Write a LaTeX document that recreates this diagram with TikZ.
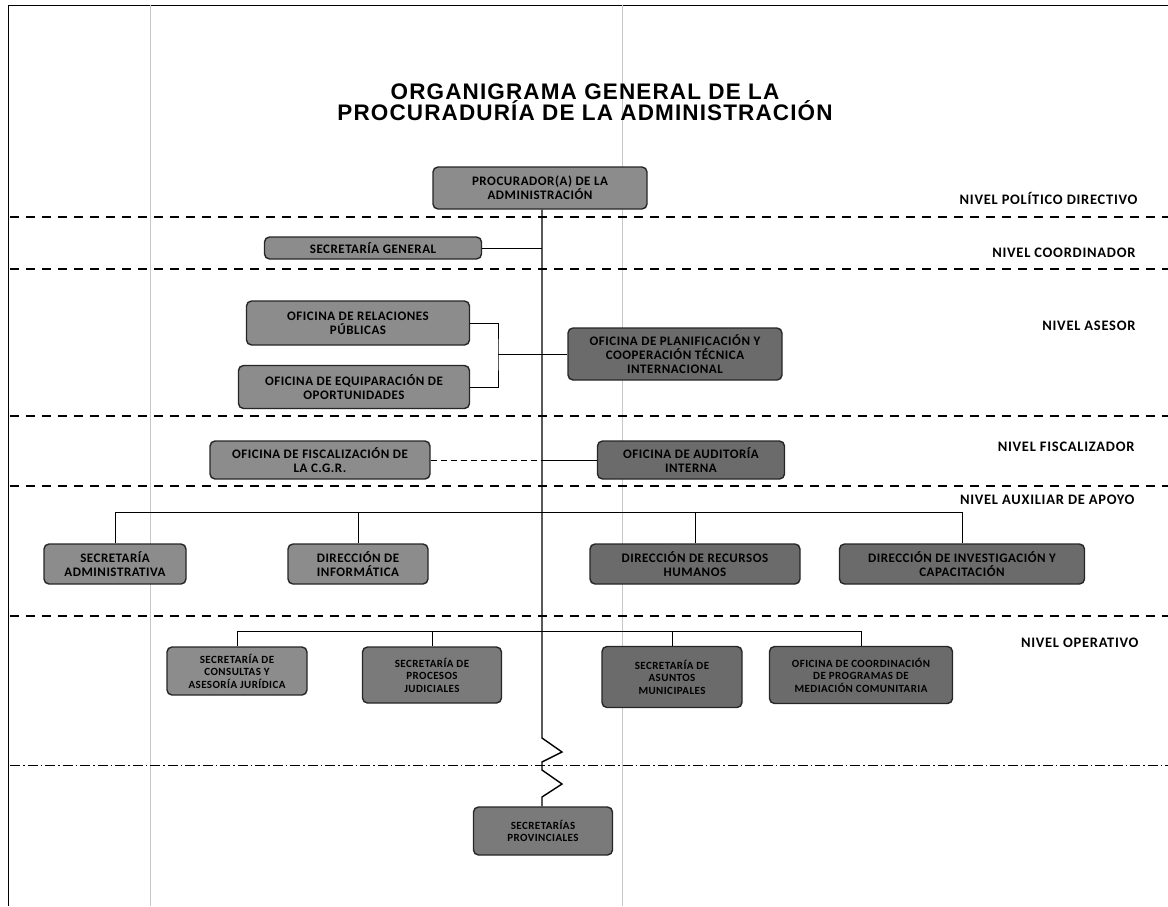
\documentclass[tikz,border=0pt]{standalone}
\usepackage{fontspec}
\setmainfont{Carlito}
\newfontfamily\titulofont[LetterSpace=5]{Liberation Sans}
\newfontfamily\cajafont[LetterSpace=4]{Carlito}
\newfontfamily\nivelfont[LetterSpace=5]{Carlito}

\tikzset{
	caja/.style={draw=black!85, line width=1.4pt, rounded corners=5pt, fill=black!45,
		align=center, inner sep=0pt, font=\cajafont\bfseries\fontsize{13}{14}\selectfont},
	cajaosc/.style={caja, fill=black!58},
	cajachica/.style={font=\cajafont\bfseries\fontsize{11}{12.5}\selectfont},
	nivel/.style={anchor=east, font=\nivelfont\bfseries\fontsize{14.5}{16}\selectfont},
	nivelsep/.style={dash pattern=on 9pt off 7pt, line width=1.1pt},
	conector/.style={line width=1pt},
}

\begin{document}
\begin{tikzpicture}[x=1pt,y=-1pt]
	\useasboundingbox (0,0) rectangle (1168,906);

	% marco y rayas del escaneo
	\draw[line width=0.8pt] (8,906) -- (8,5) -- (1168,5);
	\draw[black!22, line width=0.6pt] (150,5) -- (150,906);
	\draw[black!22, line width=0.6pt] (622,5) -- (622,906);

	\node[font=\titulofont\bfseries\fontsize{22.5}{21}\selectfont, align=center] (titulo) at (585,102)
		{ORGANIGRAMA GENERAL DE LA\\PROCURADURÍA DE LA ADMINISTRACIÓN};

	% separadores de niveles
	\foreach \y in {217,269,416,486,616}
		\draw[nivelsep] (10,\y) -- (1168,\y);
	\draw[dash pattern=on 10pt off 3pt on 1.5pt off 3pt, line width=1pt] (10,765) -- (1168,765);

	% niveles
	\node[nivel] (npd) at (1141,198) {NIVEL POLÍTICO DIRECTIVO};
	\node[nivel] (nco) at (1139,253) {NIVEL COORDINADOR};
	\node[nivel] (nas) at (1139,326) {NIVEL ASESOR};
	\node[nivel] (nfi) at (1138,447) {NIVEL FISCALIZADOR};
	\node[nivel] (nax) at (1138,500) {NIVEL AUXILIAR DE APOYO};
	\node[nivel] (nop) at (1142,643) {NIVEL OPERATIVO};

	% unidades
	\node[caja, minimum width=214pt, minimum height=42pt] (pa) at (540,188) {PROCURADOR(A) DE LA\\ADMINISTRACIÓN};
	\node[caja, minimum width=217pt, minimum height=22pt] (sg) at (373,248) {SECRETARÍA GENERAL};
	\node[caja, minimum width=223pt, minimum height=44pt] (rp) at (358,323) {OFICINA DE RELACIONES\\PÚBLICAS};
	\node[caja, minimum width=231pt, minimum height=43pt] (ep) at (354,387) {OFICINA DE EQUIPARACIÓN DE\\OPORTUNIDADES};
	\node[cajaosc, minimum width=214pt, minimum height=52pt] (pl) at (675,354) {OFICINA DE PLANIFICACIÓN Y\\COOPERACIÓN TÉCNICA\\INTERNACIONAL};
	\node[caja, minimum width=220pt, minimum height=38pt] (fi) at (320,460) {OFICINA DE FISCALIZACIÓN DE\\LA C.G.R.};
	\node[cajaosc, minimum width=187pt, minimum height=38pt] (au) at (691,460) {OFICINA DE AUDITORÍA\\INTERNA};

	\node[caja, minimum width=142pt, minimum height=40pt] (sa) at (115,564) {SECRETARÍA\\ADMINISTRATIVA};
	\node[caja, minimum width=140pt, minimum height=40pt] (di) at (358,564) {DIRECCIÓN DE\\INFORMÁTICA};
	\node[cajaosc, minimum width=210pt, minimum height=40pt] (rh) at (695,564) {DIRECCIÓN DE RECURSOS\\HUMANOS};
	\node[cajaosc, minimum width=245pt, minimum height=40pt] (ic) at (962,564) {DIRECCIÓN DE INVESTIGACIÓN Y\\CAPACITACIÓN};

	\node[caja, cajachica, minimum width=140pt, minimum height=48pt] (cj) at (237,671) {SECRETARÍA DE\\CONSULTAS Y\\ASESORÍA JURÍDICA};
	\node[cajaosc, cajachica, fill=black!52, minimum width=139pt, minimum height=56pt] (pj) at (432,675) {SECRETARÍA DE\\PROCESOS\\JUDICIALES};
	\node[cajaosc, cajachica, minimum width=140pt, minimum height=61pt] (am) at (672,677) {SECRETARÍA DE\\ASUNTOS\\MUNICIPALES};
	\node[cajaosc, cajachica, minimum width=183pt, minimum height=57pt] (mc) at (861,675) {OFICINA DE COORDINACIÓN\\DE PROGRAMAS DE\\MEDIACIÓN COMUNITARIA};

	\node[cajaosc, cajachica, fill=black!52, minimum width=139pt, minimum height=48pt] (pv) at (543,831) {SECRETARÍAS\\PROVINCIALES};

	% eje principal
	\coordinate (z0) at (542,738);
	\draw[line width=1.4pt] (pa.south -| z0) -- (z0) -- ++(20,14) -- ++(-20,10) -- ++(0,8)
		-- ++(20,14) -- ++(-20,13) -- (pv.north -| z0);

	\path[conector] (sg.east) edge (sg.east -| z0);

	\coordinate (br) at (498,354);
	\draw[conector] (rp.east) -| (br) |- (ep.east);
	\path[conector] (br) edge (pl.west);

	\path[conector, dash pattern=on 6pt off 4pt] (fi.east) edge (fi.east -| z0);
	\path[conector] (fi.east -| z0) edge (au.west);

	\coordinate (ba) at (542,512);
	\draw[conector] (sa.north) |- (ba) -| (ic.north);
	\path[conector] (di.north) edge (di.north |- ba);
	\path[conector] (rh.north) edge (rh.north |- ba);

	\coordinate (bo) at (542,631);
	\draw[conector] (cj.north) |- (bo) -| (mc.north);
	\path[conector] (pj.north) edge (pj.north |- bo);
	\path[conector] (am.north) edge (am.north |- bo);
\end{tikzpicture}
\end{document}
